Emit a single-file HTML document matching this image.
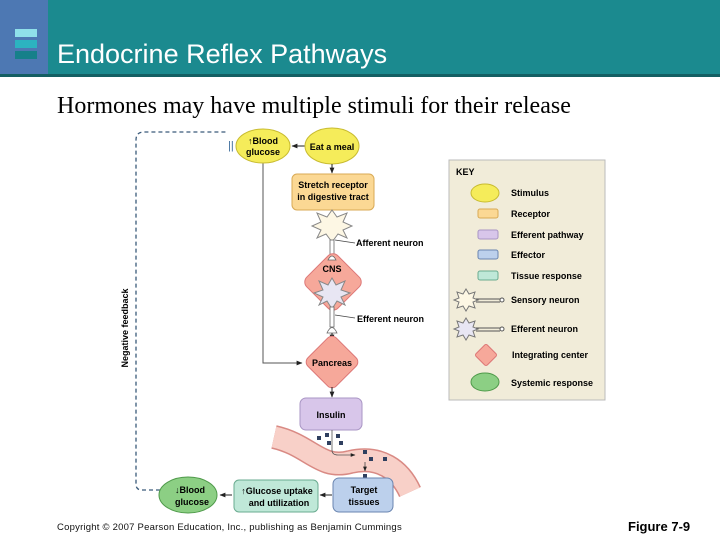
<!DOCTYPE html>
<html><head><style>
body{margin:0;width:720px;height:540px;overflow:hidden;background:#fff;font-family:"Liberation Sans",sans-serif}
</style></head><body>
<svg width="720" height="540" xmlns="http://www.w3.org/2000/svg" font-family="Liberation Sans, sans-serif">
<defs>
<marker id="a" viewBox="0 0 10 10" refX="9" refY="5" markerWidth="6" markerHeight="6" orient="auto"><path d="M0,1 L10,5 L0,9 z" fill="#222"/></marker>
</defs>
<rect x="0" y="0" width="720" height="76" fill="#1b8a8f"/>
<rect x="0" y="0" width="48" height="76" fill="#4d78b3"/>
<rect x="0" y="74" width="720" height="3" fill="#145f63"/>
<rect x="15" y="29" width="22" height="8" fill="#8fe0ea"/>
<rect x="15" y="40" width="22" height="8" fill="#2cb3c0"/>
<rect x="15" y="51" width="22" height="8" fill="#16808a"/>
<text x="57" y="63" font-size="27" fill="#fff">Endocrine Reflex Pathways</text>
<text x="57" y="113" font-size="24" font-family="Liberation Serif, serif" fill="#000">Hormones may have multiple stimuli for their release</text>

<path d="M160,490 L142,490 Q136,490 136,484 L136,140 Q136,132 144,132 L228,132" fill="none" stroke="#3a5a7a" stroke-width="1.3" stroke-dasharray="4,3"/>
<text transform="translate(128,328) rotate(-90)" font-size="9" font-weight="bold" text-anchor="middle">Negative feedback</text>
<text x="228" y="149" font-size="11" fill="#3a6a9a">||</text>

<path d="M263,163 L263,363 L302,363" fill="none" stroke="#555" stroke-width="1" marker-end="url(#a)"/>
<ellipse cx="263" cy="146" rx="27" ry="17" fill="#f5ec5a" stroke="#c8bb30"/>
<text x="263" y="144" font-size="9" font-weight="bold" text-anchor="middle">↑Blood</text>
<text x="263" y="155" font-size="9" font-weight="bold" text-anchor="middle">glucose</text>
<line x1="305" y1="146" x2="292" y2="146" stroke="#222" marker-end="url(#a)"/>
<ellipse cx="332" cy="146" rx="27" ry="18" fill="#f5ec5a" stroke="#c8bb30"/>
<text x="332" y="150" font-size="9" font-weight="bold" text-anchor="middle">Eat a meal</text>
<line x1="332" y1="164" x2="332" y2="173" stroke="#222" marker-end="url(#a)"/>
<rect x="292" y="174" width="82" height="36" rx="5" fill="#fbd894" stroke="#d9aa55"/>
<text x="333" y="188" font-size="9" font-weight="bold" text-anchor="middle">Stretch receptor</text>
<text x="333" y="200" font-size="9" font-weight="bold" text-anchor="middle">in digestive tract</text>

<polygon points="332,210 337,217 347,213 343,222 352,226 343,230 347,238 338,234 332,242 326,234 317,238 321,230 312,226 321,222 317,213 327,217" fill="#fdf7e4" stroke="#888"/>
<rect x="330" y="240" width="4" height="20" fill="#fff" stroke="#666" stroke-width="0.8"/>
<line x1="335" y1="240" x2="355" y2="243" stroke="#444" stroke-width="0.8"/>
<text x="356" y="246" font-size="9" font-weight="bold">Afferent neuron</text>
<rect x="311" y="260" width="44" height="44" rx="7" transform="rotate(45 333 282)" fill="#f6a89a" stroke="#d77"/>
<path d="M328,260 Q332,252 336,260 Z" fill="#fff" stroke="#666" stroke-width="0.8"/>
<text x="332" y="272" font-size="9" font-weight="bold" text-anchor="middle">CNS</text>
<polygon points="332,278 336,285 345,281 341,290 350,293 341,297 345,305 337,301 332,309 327,301 319,305 323,297 314,293 323,290 319,281 328,285" fill="#e8e6f3" stroke="#888"/>
<rect x="330" y="307" width="4" height="20" fill="#fff" stroke="#666" stroke-width="0.8"/>
<path d="M327,333 Q332,322 337,333 Z" fill="#fff" stroke="#666" stroke-width="0.8"/>
<line x1="335" y1="315" x2="355" y2="318" stroke="#444" stroke-width="0.8"/>
<text x="357" y="322" font-size="9" font-weight="bold">Efferent neuron</text>
<line x1="332" y1="333" x2="332" y2="340" stroke="#222" marker-end="url(#a)"/>
<rect x="312" y="342" width="40" height="40" rx="6" transform="rotate(45 332 362)" fill="#f6a89a" stroke="#d77"/>
<text x="332" y="366" font-size="9" font-weight="bold" text-anchor="middle">Pancreas</text>
<line x1="332" y1="387" x2="332" y2="397" stroke="#222" marker-end="url(#a)"/>
<rect x="300" y="398" width="62" height="32" rx="6" fill="#d8c6ea" stroke="#a995c4"/>
<text x="331" y="418" font-size="9" font-weight="bold" text-anchor="middle">Insulin</text>
<path d="M274,437 C310,445 320,470 350,462 C380,455 400,470 410,492" fill="none" stroke="#d98a84" stroke-width="24"/>
<path d="M274,437 C310,445 320,470 350,462 C380,455 400,470 410,492" fill="none" stroke="#f8d0c8" stroke-width="21"/>
<g fill="#2f3f5f">
<rect x="317" y="436" width="4" height="4"/><rect x="325" y="433" width="4" height="4"/><rect x="327" y="441" width="4" height="4"/><rect x="336" y="434" width="4" height="4"/><rect x="339" y="441" width="4" height="4"/><rect x="363" y="450" width="4" height="4"/><rect x="369" y="457" width="4" height="4"/><rect x="383" y="457" width="4" height="4"/><rect x="363" y="474" width="4" height="4"/>
</g>
<path d="M332,430 L332,450 Q332,455 338,455 L355,455" fill="none" stroke="#555" stroke-width="0.8" marker-end="url(#a)"/>
<line x1="365" y1="462" x2="365" y2="471" stroke="#444" stroke-width="0.8" marker-end="url(#a)"/>
<rect x="333" y="478" width="60" height="34" rx="6" fill="#bcd0ec" stroke="#6a85b0"/>
<text x="364" y="493" font-size="9" font-weight="bold" text-anchor="middle">Target</text>
<text x="364" y="505" font-size="9" font-weight="bold" text-anchor="middle">tissues</text>
<line x1="332" y1="495" x2="320" y2="495" stroke="#222" marker-end="url(#a)"/>
<rect x="234" y="480" width="84" height="32" rx="5" fill="#bfe8d8" stroke="#6aab90"/>
<text x="277" y="494" font-size="9" font-weight="bold" text-anchor="middle">↑Glucose uptake</text>
<text x="279" y="506" font-size="9" font-weight="bold" text-anchor="middle">and utilization</text>
<line x1="232" y1="495" x2="220" y2="495" stroke="#222" marker-end="url(#a)"/>
<ellipse cx="188" cy="495" rx="29" ry="18" fill="#8ccf84" stroke="#4f9a4a"/>
<text x="190" y="493" font-size="9" font-weight="bold" text-anchor="middle">↓Blood</text>
<text x="192" y="505" font-size="9" font-weight="bold" text-anchor="middle">glucose</text>

<rect x="449" y="160" width="156" height="240" fill="#f1ecd9" stroke="#bbb"/>
<text x="456" y="175" font-size="9" font-weight="bold">KEY</text>
<ellipse cx="485" cy="193" rx="14" ry="9" fill="#f5ec5a" stroke="#c8bb30"/>
<text x="511" y="196" font-size="9" font-weight="bold">Stimulus</text>
<rect x="478" y="209" width="20" height="9" rx="2" fill="#fbd894" stroke="#d9aa55"/>
<text x="511" y="217" font-size="9" font-weight="bold">Receptor</text>
<rect x="478" y="230" width="20" height="9" rx="2" fill="#d8c6ea" stroke="#a995c4"/>
<text x="511" y="238" font-size="9" font-weight="bold">Efferent pathway</text>
<rect x="478" y="250" width="20" height="9" rx="2" fill="#bcd0ec" stroke="#6a85b0"/>
<text x="511" y="258" font-size="9" font-weight="bold">Effector</text>
<rect x="478" y="271" width="20" height="9" rx="2" fill="#bfe8d8" stroke="#6aab90"/>
<text x="511" y="279" font-size="9" font-weight="bold">Tissue response</text>
<polygon points="466,289 469,294 475,292 473,298 478,300 473,302 475,308 469,306 466,311 463,306 457,308 459,302 454,300 459,298 457,292 463,294" fill="#fdf7e4" stroke="#777"/>
<line x1="476" y1="299" x2="500" y2="299" stroke="#555"/><line x1="476" y1="302" x2="500" y2="302" stroke="#555"/><circle cx="502" cy="300" r="2" fill="#fff" stroke="#555"/>
<text x="511" y="303" font-size="9" font-weight="bold">Sensory neuron</text>
<polygon points="466,318 469,323 475,321 473,327 478,329 473,331 475,337 469,335 466,340 463,335 457,337 459,331 454,329 459,327 457,321 463,323" fill="#e8e6f3" stroke="#777"/>
<line x1="476" y1="328" x2="500" y2="328" stroke="#555"/><line x1="476" y1="331" x2="500" y2="331" stroke="#555"/><circle cx="502" cy="329" r="2" fill="#fff" stroke="#555"/>
<text x="511" y="332" font-size="9" font-weight="bold">Efferent neuron</text>
<rect x="478" y="347" width="16" height="16" rx="2" transform="rotate(45 486 355)" fill="#f6a89a" stroke="#d77"/>
<text x="512" y="358" font-size="9" font-weight="bold">Integrating center</text>
<ellipse cx="485" cy="382" rx="14" ry="9" fill="#8ccf84" stroke="#4f9a4a"/>
<text x="511" y="386" font-size="9" font-weight="bold">Systemic response</text>

<text x="57" y="530" font-size="9.5" letter-spacing="0.3" fill="#111" textLength="345" lengthAdjust="spacing">Copyright © 2007 Pearson Education, Inc., publishing as Benjamin Cummings</text>
<text x="628" y="531" font-size="13" font-weight="bold">Figure 7-9</text>
</svg>
</body></html>
